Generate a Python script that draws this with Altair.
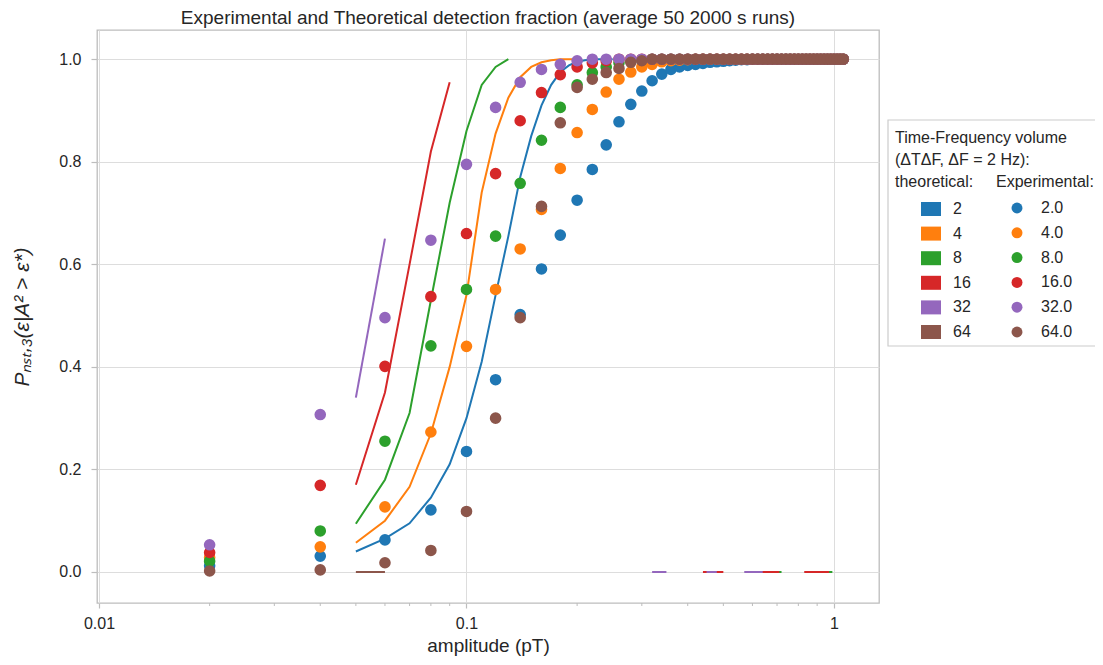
import altair as alt
import pandas as pd

# ---------------- data ----------------
series_theo = ["2", "4", "8", "16", "32", "64"]
series_exp = ["2.0", "4.0", "8.0", "16.0", "32.0", "64.0"]
colors = ["#1f77b4", "#ff7f0e", "#2ca02c", "#d62728", "#9467bd", "#8c564b"]

exp_x = [0.02, 0.04, 0.06, 0.08, 0.10, 0.12, 0.14, 0.16, 0.18, 0.20,
         0.22, 0.24, 0.26, 0.28, 0.30, 0.32, 0.34, 0.36, 0.38, 0.40,
         0.42, 0.44, 0.46, 0.48, 0.50, 0.52, 0.54, 0.56, 0.58, 0.60,
         0.62, 0.64, 0.66, 0.68, 0.70, 0.72, 0.74, 0.76, 0.78, 0.80,
         0.82, 0.84, 0.86, 0.88, 0.90, 0.92, 0.94, 0.96, 0.98, 1.00,
         1.02, 1.04, 1.06]

ones23 = [1.0] * 23
exp_2 = [0.012, 0.031, 0.0625, 0.121, 0.235, 0.375, 0.502, 0.591, 0.657, 0.725,
         0.785, 0.833, 0.878, 0.912, 0.938, 0.958, 0.971, 0.980, 0.985, 0.988,
         0.990, 0.992, 0.994, 0.995, 0.996, 0.997, 0.998, 0.999, 0.999, 1.0] + ones23
exp_4 = [0.028, 0.049, 0.127, 0.273, 0.440, 0.551, 0.630, 0.707, 0.787, 0.857,
         0.902, 0.936, 0.961, 0.975, 0.985, 0.990, 0.995, 0.997, 0.998, 0.999,
         1.0, 1.0, 1.0, 1.0, 1.0, 1.0, 1.0, 1.0, 1.0, 1.0] + ones23
exp_8 = [0.021, 0.080, 0.255, 0.441, 0.551, 0.655, 0.758, 0.842, 0.906, 0.950,
         0.974, 0.985, 0.993, 0.997, 0.999, 1.0, 1.0, 1.0, 1.0, 1.0,
         1.0, 1.0, 1.0, 1.0, 1.0, 1.0, 1.0, 1.0, 1.0, 1.0] + ones23
exp_16 = [0.038, 0.169, 0.401, 0.537, 0.660, 0.777, 0.880, 0.935, 0.970, 0.985,
          0.993, 0.997, 1.0, 1.0, 1.0, 1.0, 1.0, 1.0, 1.0, 1.0,
          1.0, 1.0, 1.0, 1.0, 1.0, 1.0, 1.0, 1.0, 1.0, 1.0] + ones23
exp_32 = [0.053, 0.307, 0.496, 0.647, 0.795, 0.906, 0.955, 0.980, 0.990, 0.997,
          1.0, 1.0, 1.0, 1.0, 1.0, 1.0, 1.0, 1.0, 1.0, 1.0,
          1.0, 1.0, 1.0, 1.0, 1.0, 1.0, 1.0, 1.0, 1.0, 1.0] + ones23
exp_64 = [0.002, 0.004, 0.018, 0.042, 0.118, 0.300, 0.496, 0.713, 0.876, 0.945,
          0.961, 0.974, 0.982, 0.994, 0.997, 1.0, 1.0, 1.0, 1.0, 1.0,
          1.0, 1.0, 1.0, 1.0, 1.0, 1.0, 1.0, 1.0, 1.0, 1.0] + ones23
exp_values = [exp_2, exp_4, exp_8, exp_16, exp_32, exp_64]

theo_x = [0.05, 0.06, 0.07, 0.08, 0.09, 0.10, 0.11, 0.12, 0.13, 0.14, 0.15,
          0.16, 0.17, 0.18, 0.19, 0.20, 0.21, 0.22, 0.23, 0.24, 0.25]
theo_2 = [0.040, 0.065, 0.095, 0.145, 0.210, 0.300, 0.410, 0.540, 0.655, 0.770,
          0.850, 0.910, 0.950, 0.975, 0.988, 0.995, 0.998, 1.0, 1.0, 1.0, 1.0]
theo_4 = [0.057, 0.100, 0.166, 0.270, 0.400, 0.540, 0.740, 0.855, 0.925, 0.965,
          0.985, 0.994, 0.998, 1.0, 1.0, 1.0]
theo_8 = [0.094, 0.180, 0.310, 0.530, 0.720, 0.860, 0.950, 0.985, 1.0]
theo_16 = [0.170, 0.350, 0.600, 0.820, 0.955]
theo_32 = [0.340, 0.650]
theo_64 = [0.0, 0.0]
theo_values = [theo_2, theo_4, theo_8, theo_16, theo_32, theo_64]

# spurious zero-valued stretches of the theoretical curves: (start, end)
theo_zero = {
    "8": [(0.69, 0.72), (0.96, 0.99)],
    "16": [(0.44, 0.50), (0.63, 0.71), (0.83, 0.97)],
    "32": [(0.32, 0.35), (0.45, 0.48), (0.57, 0.64)],
}

major_x_ticks = [0.01, 0.1, 1]
minor_x_ticks = [0.02, 0.03, 0.04, 0.05, 0.06, 0.07, 0.08, 0.09,
                 0.2, 0.3, 0.4, 0.5, 0.6, 0.7, 0.8, 0.9]
y_ticks = [0.0, 0.2, 0.4, 0.6, 0.8, 1.0]

# ---------------- tables ----------------
exp_rows = []
for name, vals in zip(series_exp, exp_values):
    for x, y in zip(exp_x, vals):
        exp_rows.append({"amp": x, "p": y, "series": name})
exp_df = pd.DataFrame(exp_rows)

theo_frames = {}
for name, vals in zip(series_theo, theo_values):
    rows = [{"amp": x, "p": y, "seg": 0, "series": name} for x, y in zip(theo_x, vals)]
    for k, (a, b) in enumerate(theo_zero.get(name, [])):
        rows.append({"amp": a, "p": 0.0, "seg": k + 1, "series": name})
        rows.append({"amp": b, "p": 0.0, "seg": k + 1, "series": name})
    theo_frames[name] = pd.DataFrame(rows)

FONT = "Liberation Sans"
TXT = "#262626"
W, H = 782, 573
xdom = [0.009875, 1.326]
ydom = [-0.0605, 1.057]

xscale = alt.Scale(type="log", domain=xdom, nice=False)
yscale = alt.Scale(domain=ydom, nice=False, zero=False)

x_main = alt.X("amp:Q", scale=xscale,
               axis=alt.Axis(values=major_x_ticks, format="~g", title="amplitude (pT)",
                             grid=True, tickSize=5, labelPadding=7, titlePadding=5,
                             titleFontSize=19))
y_main = alt.Y("p:Q", scale=yscale,
               axis=alt.Axis(values=y_ticks, format=".1f",
                             title="Pₙₛₜ,₃(ε|A² > ε*)", grid=True, tickSize=6,
                             labelPadding=10, titlePadding=26, titleFontSize=21,
                             titleFontStyle="italic"))

# legend box
box = alt.Chart(pd.DataFrame({"a": [0]})).mark_rect(
    fill="white", stroke="#cccccc", strokeWidth=1.2
).encode(x=alt.value(791), x2=alt.value(1020), y=alt.value(90), y2=alt.value(316))

layers = []
first = True
for name, col in zip(series_theo, colors):
    ln = alt.Chart(theo_frames[name]).mark_line(clip=True, strokeWidth=2, color=col).encode(
        x=x_main if first else alt.X("amp:Q", scale=xscale),
        y=y_main if first else alt.Y("p:Q", scale=yscale),
        detail="seg:N",
        order="amp:Q",
    )
    first = False
    layers.append(ln)

points = alt.Chart(exp_df).mark_circle(size=135, opacity=1, clip=True).encode(
    x=alt.X("amp:Q", scale=xscale),
    y=alt.Y("p:Q", scale=yscale),
    fill=alt.Fill("series:N", scale=alt.Scale(domain=series_exp, range=colors),
                  sort=series_exp,
                  legend=alt.Legend(orient="none", legendX=899, legendY=144,
                                    title="Experimental:", symbolType="circle",
                                    symbolSize=120, symbolOffset=13, labelOffset=16,
                                    rowPadding=8.8, titlePadding=10)),
)

# carrier of the theoretical legend (its marks fall outside the clipped plot area)
rect_path = "M-1,-0.7H1V0.7H-1Z"
theo_key = alt.Chart(pd.DataFrame({"series": series_theo, "amp": [100.0] * 6,
                                   "p": [0.5] * 6})).mark_point(
    shape=rect_path, filled=True, size=400, opacity=1, clip=True
).encode(
    x=alt.X("amp:Q", scale=xscale),
    y=alt.Y("p:Q", scale=yscale),
    color=alt.Color("series:N", scale=alt.Scale(domain=series_theo, range=colors),
                    sort=series_theo,
                    legend=alt.Legend(orient="none", legendX=798, legendY=100,
                                      title=["Time-Frequency volume",
                                             "(ΔTΔF, ΔF = 2 Hz):", "theoretical:"],
                                      symbolType=rect_path, symbolSize=400,
                                      symbolOffset=25, labelOffset=11,
                                      rowPadding=5.6, titlePadding=8)),
)

# minor ticks of the log axis
minor = alt.Chart(pd.DataFrame({"amp": minor_x_ticks})).mark_rule(
    color="#bdbdbd", strokeWidth=1
).encode(
    x=alt.X("amp:Q", scale=xscale),
    y=alt.value(H),
    y2=alt.value(H + 3),
)

chart = alt.layer(box, *layers, points, minor, theo_key).properties(
    width=W, height=H,
    title=alt.TitleParams("Experimental and Theoretical detection fraction (average 50 2000 s runs)",
                          fontSize=19, font=FONT, fontWeight="normal", color=TXT, offset=2,
                          anchor="middle"),
    autosize=alt.AutoSizeParams(type="none"),
    padding={"left": 89, "top": 22, "right": 216, "bottom": 54},
).configure_view(
    stroke="#bdbdbd", strokeWidth=1.3
).configure_axis(
    labelFont=FONT, titleFont=FONT, labelFontSize=16, titleFontSize=17,
    labelColor=TXT, titleColor=TXT, titleFontWeight="normal",
    gridColor="#dddddd", gridWidth=1, tickColor="#bdbdbd", tickWidth=1.2,
    domain=False,
).configure_legend(
    labelFont=FONT, titleFont=FONT, labelFontSize=16, titleFontSize=16,
    labelColor=TXT, titleColor=TXT, titleFontWeight="normal",
    titleLineHeight=22, padding=0, titleLimit=400,
)

chart.save("out.html", embed_options={"renderer": "svg", "actions": False})
